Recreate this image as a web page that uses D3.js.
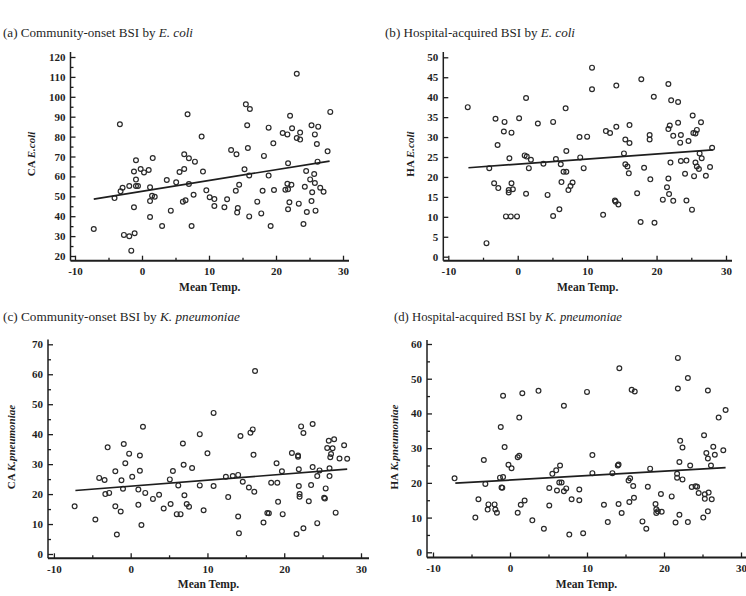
<!DOCTYPE html>
<html>
<head>
<meta charset="utf-8">
<script src="https://cdn.jsdelivr.net/npm/d3@7"></script>
<style>
  body { margin: 0; background: #fff; }
  svg { display: block; }
  text { font-family: "Liberation Serif", "Times New Roman", serif; }
</style>
</head>
<body>
<svg id="chart" width="746" height="596"></svg>
<script>
// Monthly points: [mean temperature, incidence]
const caEcoli = [
  [-7.2,33.6],[-4.1,49.1],[-3.3,86.2],[-3.2,52.5],[-2.9,54.3],[-2.7,30.6],[-1.9,29.9],[-1.9,55.2],
  [-1.1,31.4],[-1.6,22.7],[-1.2,44.5],[-1.2,62.5],[-0.9,68.1],[-0.9,58.4],[-0.9,55.2],[-0.6,55.2],
  [-0.2,63.7],[0.3,62.0],[1.0,63.2],[1.2,54.5],[1.2,47.6],[1.2,39.6],[1.5,50.3],[1.6,69.2],
  [1.9,49.8],[3.0,35.1],[3.7,58.2],[4.3,42.8],[5.1,57.0],[5.6,62.2],[6.3,71.1],[6.3,63.7],
  [6.1,47.3],[6.5,48.0],[6.8,91.2],[7.0,69.1],[7.0,56.2],[7.4,35.1],[7.7,50.8],[7.9,67.4],
  [8.9,80.0],[9.1,62.4],[9.6,53.0],[10.1,49.5],[10.8,48.6],[10.8,45.1],[12.3,44.5],[12.7,48.5],
  [13.3,73.3],[14.1,71.1],[14.0,52.8],[14.3,44.1],[14.2,41.8],[14.5,55.8],[15.3,63.6],[15.5,96.2],
  [16.1,93.9],[15.7,85.7],[15.8,74.3],[16.0,60.5],[16.0,39.9],[17.2,47.3],[17.8,41.4],[18.0,52.8],
  [18.2,70.3],[18.9,84.5],[18.9,60.4],[19.2,35.1],[19.6,76.6],[19.7,53.2],[21.0,81.8],[21.7,81.1],
  [21.4,53.3],[21.8,66.6],[21.7,56.3],[21.8,53.5],[22.3,55.8],[22.0,47.0],[21.8,43.5],[22.1,90.5],
  [22.4,84.2],[23.1,111.6],[23.1,79.3],[23.6,82.0],[23.6,78.5],[23.4,46.3],[24.1,36.1],[24.3,54.8],
  [24.5,62.7],[24.6,42.1],[25.1,58.5],[25.3,85.7],[25.3,47.6],[25.4,52.0],[25.7,61.2],[25.8,81.1],
  [25.8,56.7],[25.9,42.8],[26.1,76.3],[26.3,85.0],[26.2,67.4],[26.6,54.3],[27.1,52.3],[27.7,72.6],
  [28.1,92.4]
];
const haEcoli = [
  [-7.2,37.5],[-4.5,3.4],[-4.1,22.2],[-3.4,18.4],[-3.2,34.6],[-2.9,28.0],[-2.8,17.2],[-1.9,33.8],
  [-2.0,31.4],[-1.7,10.1],[-1.2,24.7],[-1.3,16.1],[-1.3,16.7],[-1.0,10.1],[-0.9,31.1],[-0.9,18.4],
  [-0.7,16.9],[-0.1,10.1],[0.2,34.7],[1.0,25.4],[1.2,39.8],[1.2,15.8],[1.3,25.1],[1.6,22.2],
  [1.9,24.3],[2.9,33.4],[3.7,23.3],[4.3,15.5],[5.1,33.8],[5.1,10.2],[5.5,24.5],[6.0,11.9],
  [6.2,23.2],[6.3,18.7],[6.6,21.3],[7.0,21.3],[6.9,37.2],[7.0,26.5],[7.3,16.7],[7.6,17.7],
  [7.9,18.6],[8.9,30.0],[9.0,24.9],[9.5,22.2],[10.0,30.1],[10.7,47.4],[10.7,42.0],[12.3,10.5],
  [12.7,31.5],[13.3,31.0],[14.0,14.1],[14.1,13.8],[14.2,42.9],[14.2,32.6],[14.5,13.1],[15.3,25.9],
  [15.5,29.4],[15.5,23.2],[15.8,22.6],[16.1,28.5],[16.1,33.0],[16.0,20.9],[17.2,15.9],[17.7,8.7],
  [17.8,44.5],[18.2,22.3],[19.0,30.5],[19.0,29.4],[19.1,19.4],[19.6,40.1],[19.7,8.5],[20.9,14.3],
  [21.5,17.4],[21.7,19.6],[21.8,15.7],[21.7,43.3],[21.7,32.0],[21.9,32.9],[22.0,23.6],[22.1,39.2],
  [22.4,30.3],[22.4,14.0],[23.1,38.8],[23.1,33.6],[23.4,28.6],[23.5,24.0],[23.5,30.5],[24.1,20.8],
  [24.3,24.1],[24.3,14.1],[24.6,29.0],[25.1,11.8],[25.2,35.4],[25.4,20.2],[25.3,31.0],[25.6,23.6],
  [25.6,30.9],[25.8,31.8],[25.8,22.6],[26.1,22.0],[26.2,25.9],[26.4,33.7],[26.5,24.7],[27.1,20.3],
  [27.7,22.5],[28.0,27.3]
];
const caKpn = [
  [-7.3,15.9],[-4.6,11.5],[-4.1,25.4],[-3.4,24.7],[-3.3,20.0],[-3.0,35.6],[-2.8,20.4],[-2.0,27.6],
  [-2.0,15.9],[-1.8,6.5],[-1.3,14.2],[-1.2,24.6],[-1.0,21.8],[-0.9,36.7],[-0.7,30.3],[-0.2,33.5],
  [0.2,25.8],[1.0,16.4],[1.0,21.5],[1.2,32.9],[1.2,27.8],[1.4,9.7],[1.6,42.5],[1.9,20.4],
  [2.9,18.4],[3.7,19.8],[4.3,15.2],[5.1,24.9],[5.2,16.7],[5.5,27.7],[6.0,13.3],[6.5,13.3],
  [6.2,22.9],[6.8,36.9],[6.9,29.8],[7.0,19.6],[7.3,16.7],[7.6,15.8],[8.0,28.7],[9.0,40.0],
  [9.0,22.9],[9.5,14.6],[10.0,33.6],[10.8,47.1],[10.8,22.7],[12.4,25.8],[12.7,19.0],[13.3,26.0],
  [14.0,26.4],[14.0,12.5],[14.1,6.9],[14.3,39.4],[14.6,24.1],[15.4,22.2],[15.6,40.5],[15.9,41.6],
  [16.1,20.8],[16.0,33.1],[16.2,61.1],[17.3,10.5],[17.8,13.7],[18.0,13.6],[18.3,23.8],[19.1,23.8],
  [19.0,30.3],[19.2,17.4],[19.7,27.6],[19.8,13.3],[21.0,33.7],[21.6,6.7],[21.8,32.9],[21.8,32.5],
  [21.9,28.3],[21.9,22.7],[22.0,20.0],[22.0,19.1],[22.2,42.6],[22.5,8.6],[22.5,40.4],[23.2,17.6],
  [23.5,23.0],[23.7,43.4],[23.7,29.0],[24.3,10.3],[24.3,26.0],[24.6,27.9],[25.2,18.8],[25.4,21.9],
  [25.3,18.5],[25.6,35.4],[25.8,37.8],[25.9,28.6],[25.9,26.0],[26.0,32.3],[26.1,33.4],[26.3,35.3],
  [26.5,38.3],[26.7,13.8],[27.2,31.9],[27.8,36.3],[28.2,31.8]
];
const haKpn = [
  [-7.2,21.3],[-4.5,10.0],[-4.1,15.3],[-3.4,26.6],[-3.2,19.7],[-2.9,12.3],[-2.8,13.8],[-2.0,13.8],
  [-1.9,12.3],[-1.7,11.4],[-1.2,36.1],[-1.3,21.5],[-1.1,18.7],[-0.9,45.1],[-1.0,18.6],[-0.9,21.7],
  [-0.7,30.3],[-0.2,25.2],[0.2,24.2],[1.0,27.4],[1.2,27.8],[1.2,38.8],[1.0,11.4],[1.4,13.7],
  [1.6,45.8],[1.9,14.9],[2.9,9.2],[3.7,46.5],[4.4,6.8],[5.1,18.5],[5.1,13.5],[5.5,22.6],
  [6.0,23.6],[6.1,17.8],[6.4,20.1],[6.5,25.0],[6.7,20.1],[7.0,17.6],[7.0,42.2],[7.3,18.4],
  [7.7,5.1],[8.0,15.3],[9.0,18.1],[9.0,15.0],[9.5,5.5],[10.0,46.2],[10.7,28.0],[10.7,22.8],
  [12.2,13.7],[12.7,8.7],[13.3,22.8],[14.0,25.0],[14.1,25.3],[14.1,13.9],[14.2,53.0],[14.5,11.3],
  [15.4,20.7],[15.6,21.3],[15.5,14.5],[16.0,19.1],[16.1,15.7],[15.8,46.8],[16.2,46.3],[17.2,8.9],
  [17.7,6.8],[17.9,18.9],[18.2,24.1],[18.9,13.9],[19.0,12.4],[19.0,11.3],[19.2,11.8],[19.6,16.8],
  [19.7,11.7],[21.0,16.1],[21.5,8.6],[21.8,56.0],[21.8,47.2],[21.7,22.6],[21.7,21.5],[22.0,26.0],
  [22.0,10.8],[22.1,32.1],[22.4,30.2],[22.4,21.0],[23.1,50.2],[23.1,8.7],[23.4,25.0],[23.6,18.8],
  [24.1,19.0],[24.3,18.9],[24.5,17.1],[25.1,10.0],[25.2,33.7],[25.3,16.7],[25.3,15.4],[25.5,28.6],
  [25.7,27.0],[25.7,46.6],[25.8,17.2],[25.7,11.8],[26.1,25.0],[26.2,15.3],[26.4,30.4],[26.6,28.1],
  [27.1,38.8],[27.7,29.4],[28.0,41.0]
];

// Fitted regression lines (end points)
const fitCaEcoli = [[-7.2, 48.6], [28.0, 67.7]];
const fitHaEcoli = [[-7.1, 22.3], [28.1, 26.8]];
const fitCaKpn = [[-7.2, 21.2], [28.2, 28.3]];
const fitHaKpn = [[-7.1, 19.9], [28.0, 24.4]];

// Tick values
const tempTicks = [-10, 0, 10, 20, 30];
const tempMinor = [-5, 5, 15, 25];
const caEcoliTicks = [20, 30, 40, 50, 60, 70, 80, 90, 100, 110, 120];
const caEcoliMinor = [25, 35, 45, 55, 65, 75, 85, 95, 105, 115];
const haEcoliTicks = [0, 5, 10, 15, 20, 25, 30, 35, 40, 45, 50];
const caKpnTicks = [0, 10, 20, 30, 40, 50, 60, 70];
const caKpnMinor = [5, 15, 25, 35, 45, 55, 65];
const haKpnTicks = [0, 10, 20, 30, 40, 50, 60];
const haKpnMinor = [5, 15, 25, 35, 45, 55];

const panels = [
  {
    title: "(a) Community-onset BSI by ", species: "E. coli", titleX: 3, titleY: 37, titleW: 190,
    yPrefix: "CA ", yItalic: "E.coli", yLabelX: 35, yLabelY: 154,
    data: caEcoli, fit: fitCaEcoli, ticks: caEcoliTicks, minor: caEcoliMinor,
    xRange: [75, 343], yRange: [256, 57], axisX: 70.5, axisY: 260.7, top: 52, right: 349
  },
  {
    title: "(b) Hospital-acquired BSI by ", species: "E. coli", titleX: 385, titleY: 37, titleW: 190,
    yPrefix: "HA ", yItalic: "E.coli", yLabelX: 414, yLabelY: 154,
    data: haEcoli, fit: fitHaEcoli, ticks: haEcoliTicks, minor: [],
    xRange: [448.3, 726], yRange: [256.7, 57.3], axisX: 443.3, axisY: 260.7, top: 52, right: 732
  },
  {
    title: "(c) Community-onset BSI by ", species: "K. pneumoniae", titleX: 3, titleY: 321, titleW: 237,
    yPrefix: "CA ", yItalic: "K.pneumoniae", yLabelX: 15, yLabelY: 447,
    data: caKpn, fit: fitCaKpn, ticks: caKpnTicks, minor: caKpnMinor,
    xRange: [53.9, 361], yRange: [554, 344.3], axisX: 48, axisY: 558.3, top: 339.5, right: 369
  },
  {
    title: "(d) Hospital-acquired BSI by ", species: "K. pneumoniae", titleX: 394, titleY: 321, titleW: 228,
    yPrefix: "HA ", yItalic: "K.pneumoniae", yLabelX: 398, yLabelY: 447,
    data: haKpn, fit: fitHaKpn, ticks: haKpnTicks, minor: haKpnMinor,
    xRange: [433, 741], yRange: [552.3, 344], axisX: 427, axisY: 557.5, top: 340, right: 746
  }
];

const svg = d3.select("#chart");
const ink = "#1e1e1e";

panels.forEach((p) => {
  const x = d3.scaleLinear().domain([-10, 30]).range(p.xRange);
  const y = d3.scaleLinear().domain([p.ticks[0], p.ticks[p.ticks.length - 1]]).range(p.yRange);
  const g = svg.append("g");

  // Panel title
  const title = g.append("text")
    .attr("x", p.titleX)
    .attr("y", p.titleY)
    .attr("font-size", 13)
    .attr("fill", ink)
    .attr("textLength", p.titleW)
    .attr("lengthAdjust", "spacingAndGlyphs");
  title.append("tspan").text(p.title);
  title.append("tspan").attr("font-style", "italic").text(p.species);

  // Y axis ticks and labels (ticks point inward)
  const yAxis = g.append("g")
    .attr("transform", `translate(${p.axisX},0)`)
    .call(d3.axisLeft(y).tickValues(p.ticks).tickSize(-5).tickPadding(5).tickFormat((d) => String(d)));
  const yMinor = g.append("g")
    .attr("transform", `translate(${p.axisX},0)`)
    .call(d3.axisLeft(y).tickValues(p.minor).tickSize(-3).tickFormat(""));

  // X axis ticks and labels
  const xAxis = g.append("g")
    .attr("transform", `translate(0,${p.axisY})`)
    .call(d3.axisBottom(x).tickValues(tempTicks).tickSize(-5).tickPadding(7).tickFormat((d) => String(d)));
  const xMinor = g.append("g")
    .attr("transform", `translate(0,${p.axisY})`)
    .call(d3.axisBottom(x).tickValues(tempMinor).tickSize(-3).tickFormat(""));

  [yAxis, yMinor, xAxis, xMinor].forEach((a) => {
    a.select(".domain").remove();
    a.attr("color", ink)
      .attr("font-size", 11)
      .attr("font-weight", "bold");
    a.selectAll("line").attr("stroke-width", 1.3);
  });

  // Axis lines
  g.append("line")
    .attr("x1", p.axisX).attr("x2", p.right)
    .attr("y1", p.axisY).attr("y2", p.axisY)
    .attr("stroke", ink).attr("stroke-width", 1.9);
  g.append("line")
    .attr("x1", p.axisX).attr("x2", p.axisX)
    .attr("y1", p.top).attr("y2", p.axisY)
    .attr("stroke", ink).attr("stroke-width", 1.5);

  // Axis titles
  g.append("text")
    .attr("x", (p.axisX + p.right) / 2)
    .attr("y", p.axisY + 30)
    .attr("text-anchor", "middle")
    .attr("font-size", 11.5)
    .attr("font-weight", "bold")
    .attr("fill", ink)
    .text("Mean Temp.");

  const yl = g.append("text")
    .attr("transform", `translate(${p.yLabelX},${p.yLabelY}) rotate(-90)`)
    .attr("text-anchor", "middle")
    .attr("font-size", 11)
    .attr("font-weight", "bold")
    .attr("fill", ink);
  yl.append("tspan").text(p.yPrefix);
  yl.append("tspan").attr("font-style", "italic").text(p.yItalic);

  // Points
  g.append("g")
    .selectAll("circle")
    .data(p.data)
    .enter()
    .append("circle")
    .attr("cx", (d) => x(d[0]))
    .attr("cy", (d) => y(d[1]))
    .attr("r", 2.4)
    .attr("fill", "none")
    .attr("stroke", "#2a2a2a")
    .attr("stroke-width", 1.2);

  // Regression line
  g.append("path")
    .datum(p.fit)
    .attr("fill", "none")
    .attr("stroke", ink)
    .attr("stroke-width", 1.7)
    .attr("d", d3.line().x((d) => x(d[0])).y((d) => y(d[1])));
});
</script>
</body>
</html>
